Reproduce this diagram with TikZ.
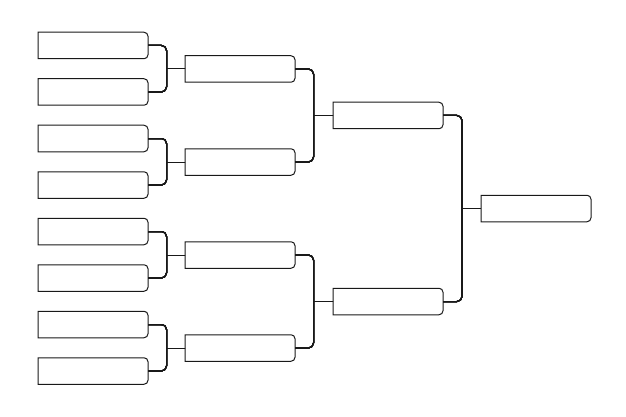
\documentclass[tikz,border=0pt]{standalone}
\usetikzlibrary{positioning}
\tikzset{
  wire/.style={line width=1pt, draw=black!90},
  slot/.style={minimum width=110pt, minimum height=26.5pt, inner sep=0pt, outer sep=0pt},
}
% box with rounded corners on the right side only
\newcommand{\slotbox}[1]{%
  \draw[wire] (#1.north west) -- ([xshift=-4pt]#1.north east)
    arc[start angle=90,end angle=0,radius=4pt] -- ([yshift=4pt]#1.south east)
    arc[start angle=0,end angle=-90,radius=4pt] -- (#1.south west) -- cycle;}

\begin{document}
\begin{tikzpicture}[x=1pt,y=1pt]
  \useasboundingbox (0,0) rectangle (626,-417);
  % rounds
  \foreach \i/\y in {1/45.5,2/92,3/138.5,4/185,5/231.5,6/278,7/324.5,8/371}
    \node[slot] (a\i) at (93,-\y) {};
  \foreach \i/\y in {1/69,2/162,3/255,4/348}
    \node[slot] (b\i) at (240,-\y) {};
  \foreach \i/\y in {1/115.5,2/301.5}
    \node[slot] (c\i) at (388,-\y) {};
  \node[slot] (d1) at (536,-208.5) {};
  \foreach \n in {a1,a2,a3,a4,a5,a6,a7,a8,b1,b2,b3,b4,c1,c2,d1}
    \slotbox{\n}
  % brackets
  \foreach \i/\j/\k in {1/2/1,3/4/2,5/6/3,7/8/4}{
    \draw[wire,rounded corners=5pt] (a\i.east) -- ++(18.5,0) |- (a\j.east);
    \draw[wire] (b\k.west) -- ++(-19,0);
  }
  \foreach \i/\j/\k in {1/2/1,3/4/2}{
    \draw[wire,rounded corners=5pt] (b\i.east) -- ++(18.5,0) |- (b\j.east);
    \draw[wire] (c\k.west) -- ++(-19.5,0);
  }
  \draw[wire,rounded corners=5pt] (c1.east) -- ++(19,0) |- (c2.east);
  \draw[wire] (d1.west) -- ++(-19,0);
\end{tikzpicture}
\end{document}
